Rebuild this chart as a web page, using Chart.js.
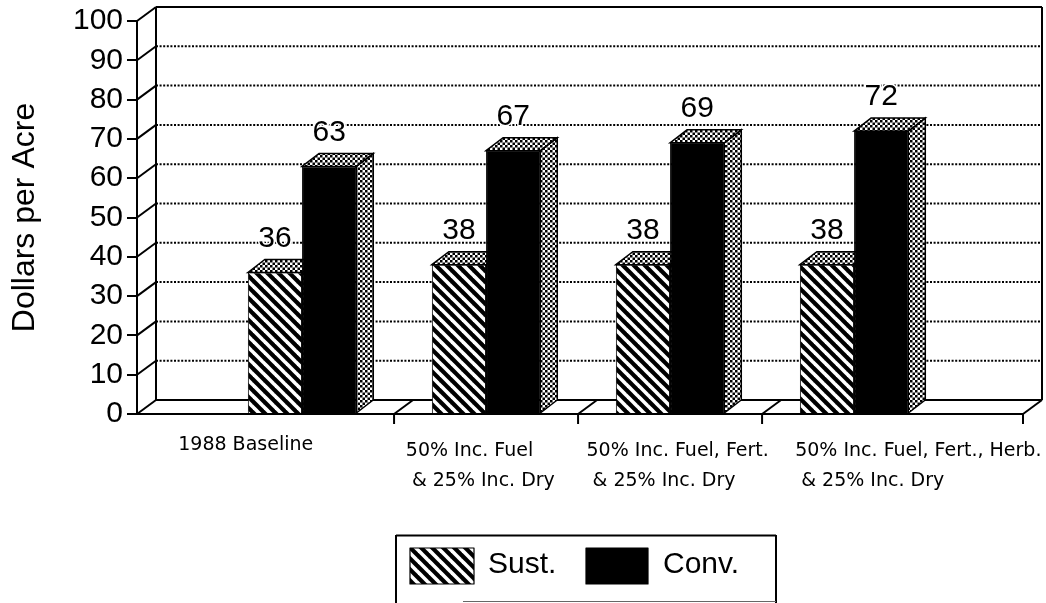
<!DOCTYPE html>
<html>
<head>
<meta charset="utf-8">
<title>Dollars per Acre</title>
<script src="https://cdn.jsdelivr.net/npm/chart.js@4"></script>
<style>
    html, body { margin: 0; padding: 0; background: #fff; overflow: hidden; }
    canvas { display: block; }
</style>
</head>
<body>
<canvas id="chart" width="1046" height="603"></canvas>
<script>
// Chart data
const categories = [
    '1988 Baseline',
    ['50% Inc. Fuel', ' & 25% Inc. Dry'],
    ['50% Inc. Fuel, Fert.', ' & 25% Inc. Dry'],
    ['50% Inc. Fuel, Fert., Herb.', ' & 25% Inc. Dry']
];
const sustValues = [36, 38, 38, 38];
const convValues = [63, 67, 69, 72];
const yTicks = [0, 10, 20, 30, 40, 50, 60, 70, 80, 90, 100];

// Where the category text starts, in x axis units (the labels are not under the bars)
const labelStarts = [0.327, 1.564, 2.546, 3.68];
const dividers = [1.5, 2.5, 3.5];

const LABEL_FONT = '30px "Liberation Sans", Arial, sans-serif';
const DEPTH_X = 19, DEPTH_Y = 14;     // depth of the floor and back wall
const BAR_DX = 17, BAR_DY = 13;       // depth of one bar

function makeTile(size, paint) {
    const tile = document.createElement('canvas');
    tile.width = tile.height = size;
    paint(tile.getContext('2d'));
    return tile.getContext('2d').createPattern(tile, 'repeat');
}

// Black with white diagonal stripes
const hatch = makeTile(11, t => {
    t.fillStyle = '#000';
    t.fillRect(0, 0, 11, 11);
    t.strokeStyle = '#fff';
    t.lineWidth = 3.6;
    [-11, 0, 11].forEach(o => {
        t.beginPath();
        t.moveTo(o - 2, -2);
        t.lineTo(o + 13, 13);
        t.stroke();
    });
});

// Stipple used on the top and side faces
const stipple = makeTile(5, t => {
    t.fillStyle = '#fff';
    t.fillRect(0, 0, 5, 5);
    t.fillStyle = '#000';
    t.fillRect(0, 0, 2.5, 2.5);
    t.fillRect(2.5, 2.5, 2.5, 2.5);
});

function line(c, x1, y1, x2, y2) {
    c.beginPath();
    c.moveTo(x1, y1);
    c.lineTo(x2, y2);
    c.stroke();
}

function face(c, pts) {
    c.beginPath();
    pts.forEach((p, i) => i ? c.lineTo(p[0], p[1]) : c.moveTo(p[0], p[1]));
    c.closePath();
    c.fillStyle = stipple;
    c.fill();
    c.stroke();
}

const depthPlugin = {
    id: 'depth',
    // Back wall, floor and the bar side faces go under the bars
    beforeDatasetsDraw(chart) {
        const c = chart.ctx, x = chart.scales.x, y = chart.scales.y;
        const left = x.left, right = x.right, bottom = y.bottom;
        c.save();
        c.strokeStyle = '#000';
        c.lineWidth = 2;

        // dotted grid on the wall
        c.setLineDash([2, 1.6]);
        yTicks.slice(1, -1).forEach(v => {
            const py = y.getPixelForValue(v) - DEPTH_Y;
            line(c, left + DEPTH_X, py, right + DEPTH_X, py);
        });
        c.setLineDash([]);

        // wall outline and floor
        const backTop = y.top - DEPTH_Y, backBottom = bottom - DEPTH_Y;
        line(c, left + DEPTH_X, backTop, right + DEPTH_X, backTop);
        line(c, left + DEPTH_X, backBottom, right + DEPTH_X, backBottom);
        line(c, left + DEPTH_X, backTop, left + DEPTH_X, backBottom);
        line(c, right + DEPTH_X, backTop, right + DEPTH_X, backBottom);
        line(c, right, bottom, right + DEPTH_X, backBottom);
        line(c, right, bottom, right, bottom + 10);

        // slanted ticks on the left side wall
        yTicks.forEach(v => {
            const py = y.getPixelForValue(v);
            line(c, left, py, left + DEPTH_X, py - DEPTH_Y);
        });

        // category dividers on the floor
        dividers.forEach(v => {
            const px = x.getPixelForValue(v);
            line(c, px, bottom, px + DEPTH_X, backBottom);
            line(c, px, bottom, px, bottom + 10);
        });

        c.lineWidth = 1.5;
        chart.data.datasets.forEach((ds, i) => {
            chart.getDatasetMeta(i).data.forEach(bar => {
                const l = bar.x - bar.width / 2, r = bar.x + bar.width / 2;
                face(c, [[r, bar.y], [r + BAR_DX, bar.y - BAR_DY], [r + BAR_DX, bar.base - BAR_DY], [r, bar.base]]);
                face(c, [[l, bar.y], [l + BAR_DX, bar.y - BAR_DY], [r + BAR_DX, bar.y - BAR_DY], [r, bar.y]]);
            });
        });
        c.restore();
    },
    afterDatasetsDraw(chart) {
        const c = chart.ctx;
        c.save();
        c.font = LABEL_FONT;
        c.textAlign = 'center';
        c.textBaseline = 'middle';
        c.lineJoin = 'round';
        // value labels, with a white edge that breaks the dotted lines
        chart.data.datasets.forEach((ds, i) => {
            chart.getDatasetMeta(i).data.forEach((bar, j) => {
                const py = bar.y - 34;
                c.strokeStyle = '#fff';
                c.lineWidth = 3;
                c.strokeText(ds.data[j].y, bar.x, py);
                c.fillStyle = '#000';
                c.fillText(ds.data[j].y, bar.x, py);
            });
        });

        // legend box runs off the bottom of the page
        c.strokeStyle = '#000';
        c.lineWidth = 2;
        line(c, 396, 535.5, 776, 535.5);
        line(c, 396, 535, 396, 603);
        line(c, 776, 535, 776, 603);
        c.strokeStyle = '#666';
        c.lineWidth = 1;
        line(c, 463, 601.5, 776, 601.5);

        c.textAlign = 'left';
        c.textBaseline = 'alphabetic';
        c.font = LABEL_FONT;
        c.strokeStyle = '#000';
        c.lineWidth = 1.2;
        [[410, 64, 488], [586, 62, 663]].forEach((slot, i) => {
            const ds = chart.data.datasets[i];
            c.fillStyle = ds.backgroundColor;
            c.fillRect(slot[0], 548, slot[1], 36);
            c.strokeRect(slot[0], 548, slot[1], 36);
            c.fillStyle = '#000';
            c.fillText(ds.label, slot[2], 573);
        });
        c.restore();
    }
};

new Chart(document.getElementById('chart'), {
    type: 'bar',
    data: {
        datasets: [
            {
                label: 'Sust.',
                data: sustValues.map((v, i) => ({ x: i + 1, y: v })),
                backgroundColor: hatch,
                borderColor: '#000',
                borderWidth: 1
            },
            {
                label: 'Conv.',
                data: convValues.map((v, i) => ({ x: i + 1, y: v })),
                backgroundColor: '#000',
                borderColor: '#000',
                borderWidth: 1
            }
        ]
    },
    options: {
        responsive: false,
        animation: false,
        layout: { padding: { top: 21, right: 23, left: 0, bottom: 0 } },
        datasets: { bar: { categoryPercentage: 0.6, barPercentage: 1 } },
        scales: {
            x: {
                type: 'linear',
                offset: false,
                min: 0.103,
                max: 4.918,
                grid: { display: false, drawTicks: false, offset: false },
                border: { display: true, color: '#000', width: 2 },
                afterBuildTicks: s => { s.ticks = labelStarts.map(v => ({ value: v })); },
                afterFit: s => { s.height = 189; s.paddingLeft = 0; s.paddingRight = 0; },
                ticks: {
                    autoSkip: false,
                    align: 'start',
                    maxRotation: 0,
                    minRotation: 0,
                    padding: 22,
                    color: '#000',
                    callback: (v, i) => categories[i],
                    font: ctx => ({
                        family: '"DejaVu Sans", sans-serif',
                        size: 19,
                        // the one-line label sits a little higher than the others
                        lineHeight: ctx.index === 0 ? '18px' : '30px'
                    })
                }
            },
            y: {
                min: 0,
                max: 100,
                title: {
                    display: true,
                    text: 'Dollars per Acre',
                    color: '#000',
                    padding: { top: 6, bottom: 0 },
                    font: { family: '"Liberation Sans", Arial, sans-serif', size: 32 }
                },
                grid: { drawOnChartArea: false, color: '#000', tickLength: 10, lineWidth: 2 },
                border: { display: true, color: '#000', width: 2 },
                afterFit: s => { s.width = 137; s.paddingTop = 0; s.paddingBottom = 0; },
                ticks: {
                    stepSize: 10,
                    padding: 4,
                    color: '#000',
                    font: { family: '"Liberation Sans", Arial, sans-serif', size: 30 }
                }
            }
        },
        plugins: {
            legend: { display: false },
            tooltip: { enabled: false }
        }
    },
    plugins: [depthPlugin]
});
</script>
</body>
</html>
